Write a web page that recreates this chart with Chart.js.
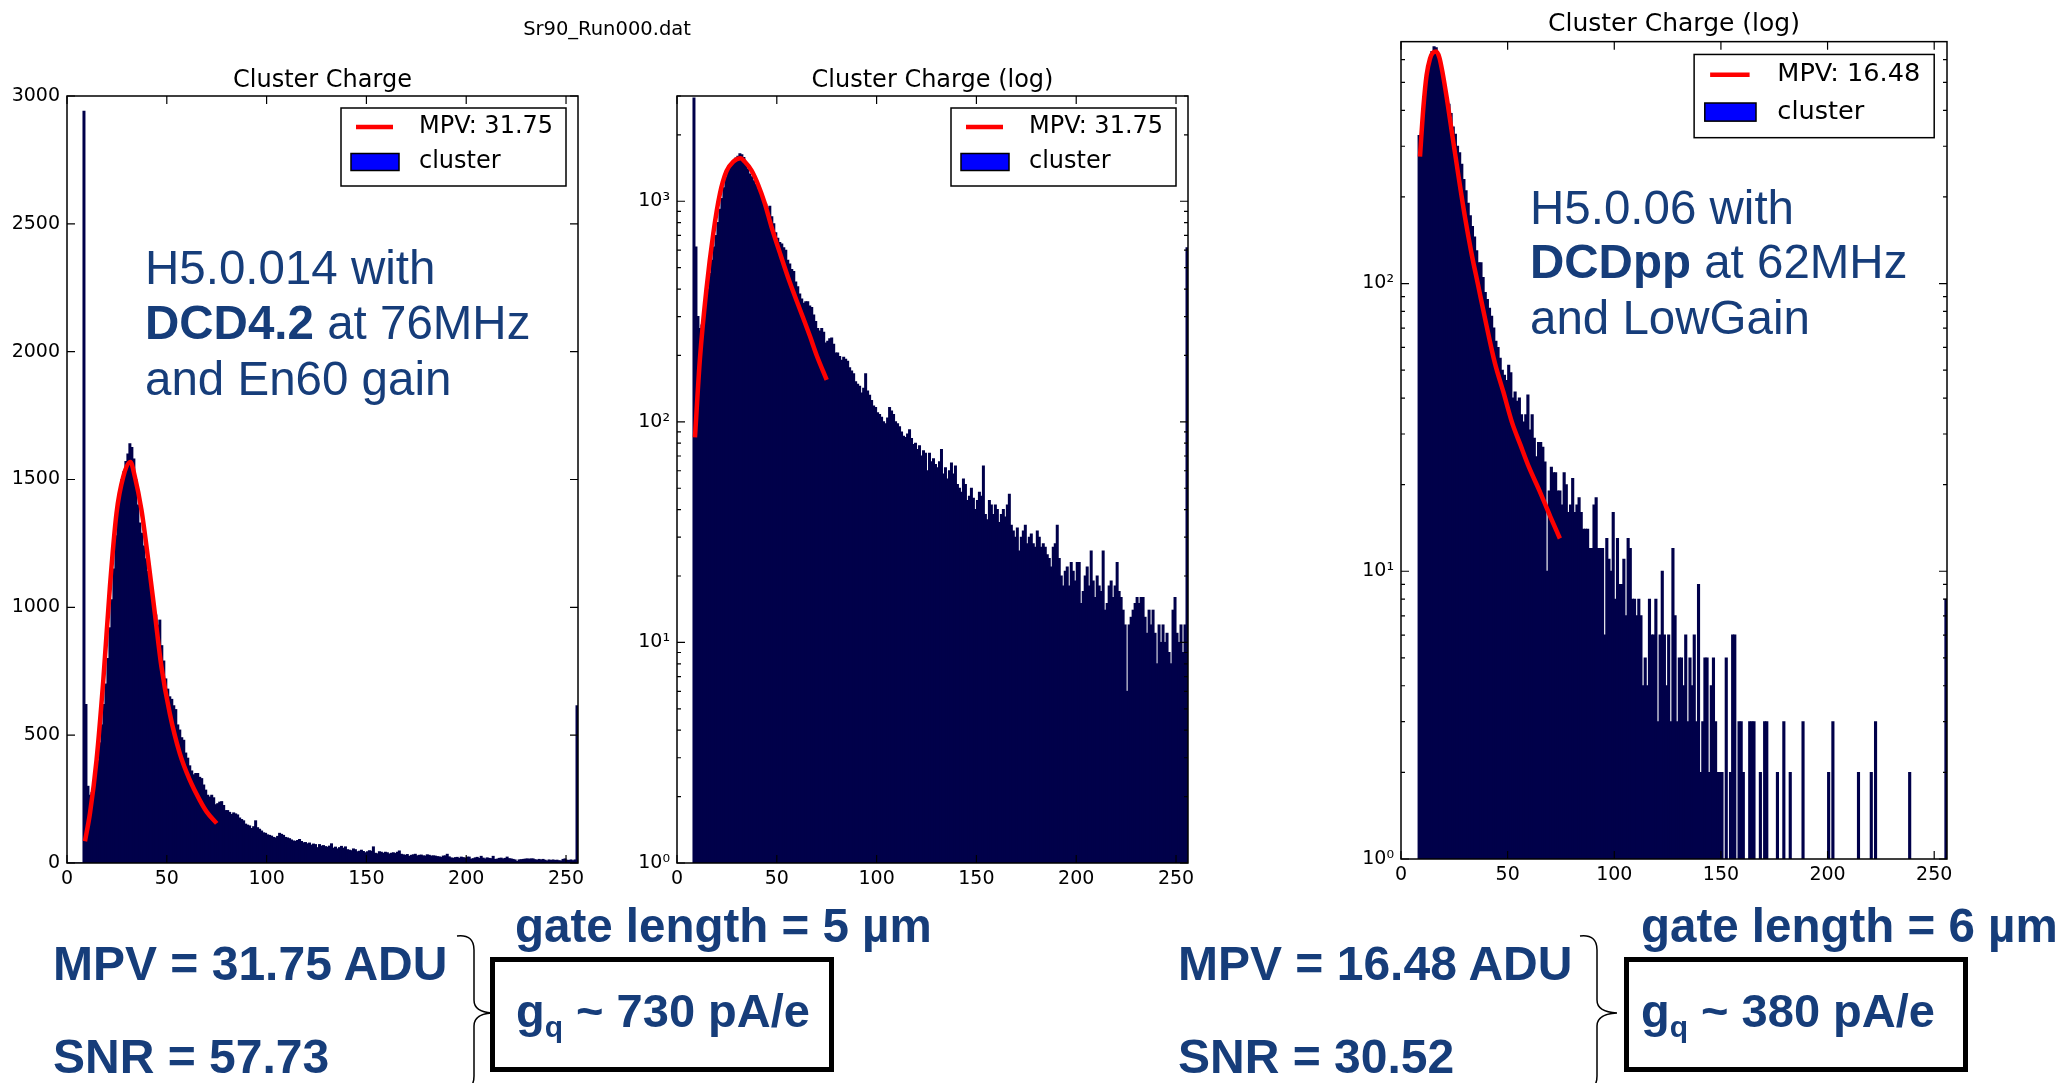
<!DOCTYPE html>
<html>
<head>
<meta charset="utf-8">
<script src="https://cdn.jsdelivr.net/npm/chart.js@4.4.1/dist/chart.umd.min.js"></script>
<style>
  html, body { margin: 0; padding: 0; background: #fff; }
  body { width: 2070px; height: 1083px; position: relative; overflow: hidden; }
  .panel { position: absolute; }
  #notes { position: absolute; left: 0; top: 0; z-index: 2; }
</style>
</head>
<body>
<div class="panel" style="left:0px;top:66px;width:590px;height:837px"><canvas id="chartLin"></canvas></div>
<div class="panel" style="left:600px;top:66px;width:600px;height:837px"><canvas id="chartLog"></canvas></div>
<div class="panel" style="left:1320px;top:9px;width:639px;height:890px"><canvas id="chartLow"></canvas></div>

<svg id="notes" width="2070" height="1083" viewBox="0 0 2070 1083">
  <text x="607" y="35" text-anchor="middle" font-family="DejaVu Sans" font-size="19.5" fill="#000">Sr90_Run000.dat</text>
  <g font-family="Liberation Sans, Arial, sans-serif" font-size="47.5" fill="#163d7a">
    <text x="145" y="284">H5.0.014 with</text>
    <text x="145" y="339"><tspan font-weight="bold">DCD4.2</tspan> at 76MHz</text>
    <text x="145" y="395">and En60 gain</text>
    <text x="1530" y="224">H5.0.06 with</text>
    <text x="1530" y="278"><tspan font-weight="bold">DCDpp</tspan> at 62MHz</text>
    <text x="1530" y="334">and LowGain</text>
  </g>
  <g font-family="Liberation Sans, Arial, sans-serif" font-size="48" font-weight="bold" fill="#163d7a">
    <text x="53" y="980">MPV = 31.75 ADU</text>
    <text x="53" y="1073">SNR = 57.73</text>
    <text x="1178" y="980">MPV = 16.48 ADU</text>
    <text x="1178" y="1073">SNR = 30.52</text>
  </g>
  <g font-family="Liberation Sans, Arial, sans-serif" font-size="47.5" font-weight="bold" fill="#163d7a">
    <text x="515" y="942">gate length = 5 µm</text>
    <text x="1641" y="942">gate length = 6 µm</text>
  </g>
  <g font-family="Liberation Sans, Arial, sans-serif" font-size="47" font-weight="bold" fill="#163d7a">
    <text x="516" y="1027">g<tspan font-size="30" dy="10">q</tspan><tspan dy="-10"> ~ 730 pA/e</tspan></text>
    <text x="1641" y="1027">g<tspan font-size="30" dy="10">q</tspan><tspan dy="-10"> ~ 380 pA/e</tspan></text>
  </g>
  <g fill="none" stroke="#000">
    <rect x="492.5" y="959.5" width="339" height="110" stroke-width="5"/>
    <rect x="1626.5" y="959.5" width="339" height="110" stroke-width="5"/>
    <path d="M457 936 Q474 934 474 950 L474 1000 Q474 1012 492 1013 Q474 1014 474 1026 L474 1076 Q474 1092 457 1090" stroke-width="1.5"/>
    <path d="M1580 936 Q1597 934 1597 950 L1597 1000 Q1597 1012 1617 1013 Q1597 1014 1597 1026 L1597 1076 Q1597 1092 1580 1090" stroke-width="1.5"/>
  </g>
</svg>

<script>
// axis ticks
const xTickValues = [0, 50, 100, 150, 200, 250];
const linTickValues = [0, 500, 1000, 1500, 2000, 2500, 3000];
const logTickLabels = {1: '10\u2070', 10: '10\u00b9', 100: '10\u00b2', 1000: '10\u00b3'};

// Sr90_Run000, H5.0.014 + DCD4.2, counts per ADU bin 0..255
const runACounts = [
  0, 0, 0, 0, 0, 0, 0, 0, 2940, 620, 300, 265, 275, 300, 345, 400,
  470, 540, 620, 700, 800, 920, 1030, 1150, 1280, 1380, 1440, 1500, 1530, 1570, 1600, 1640,
  1625, 1580, 1500, 1400, 1330, 1290, 1240, 1190, 1140, 1090, 1040, 1000, 970, 930, 950, 850,
  790, 720, 680, 650, 640, 615, 600, 540, 520, 490, 480, 430, 410, 380, 360, 345,
  350, 350, 335, 330, 305, 285, 265, 258, 265, 255, 228, 232, 238, 240, 225, 205,
  205, 198, 190, 196, 192, 188, 176, 170, 165, 152, 148, 145, 135, 142, 165, 138,
  132, 125, 118, 116, 110, 108, 105, 100, 98, 104, 116, 112, 108, 100, 98, 95,
  90, 86, 85, 88, 92, 84, 79, 80, 75, 78, 70, 74, 72, 60, 72, 66,
  68, 64, 62, 66, 75, 58, 62, 55, 60, 65, 58, 63, 52, 50, 48, 55,
  52, 44, 46, 50, 45, 40, 44, 48, 46, 63, 38, 36, 44, 42, 38, 42,
  40, 35, 38, 40, 37, 42, 47, 34, 32, 30, 33, 26, 30, 32, 34, 28,
  30, 31, 28, 27, 32, 30, 27, 28, 27, 25, 24, 22, 27, 28, 34, 24,
  20, 18, 21, 22, 18, 23, 21, 19, 23, 23, 15, 17, 20, 22, 18, 26,
  19, 16, 20, 18, 17, 26, 14, 15, 18, 19, 16, 18, 23, 17, 16, 14,
  12, 6, 12, 13, 14, 15, 16, 15, 16, 16, 13, 11, 14, 12, 14, 11,
  8, 12, 10, 12, 10, 11, 9, 8, 14, 16, 11, 10, 12, 9, 12, 615
];

// H5.0.06 + DCDpp, counts per ADU bin 0..255
const runBCounts = [
  0, 0, 0, 0, 0, 0, 0, 0, 327, 278, 400, 480, 545, 600, 640, 665,
  660, 610, 570, 520, 470, 440, 420, 390, 350, 330, 300, 285, 260, 230, 210, 190,
  172, 158, 145, 130, 118, 118, 105, 93, 88, 82, 77, 70, 63, 60, 55, 50,
  48, 46, 52, 49, 40, 42, 39, 40, 35, 33, 35, 41, 31, 35, 29, 25,
  28, 28, 27, 24, 10, 19, 23, 22, 22, 19, 19, 17, 22, 20, 16, 17,
  21, 16, 17, 18, 16, 14, 14, 14, 12, 12, 17, 18, 12, 12, 12, 6,
  13, 11, 10, 16, 8, 13, 9, 9, 11, 7, 13, 12, 8, 8, 7, 8,
  7, 4, 5, 4, 8, 6, 6, 8, 3, 6, 10, 6, 4, 6, 3, 12,
  7, 3, 5, 5, 4, 6, 3, 5, 4, 6, 3, 9, 2, 3, 5, 5,
  2, 4, 5, 3, 2, 2, 2, 0, 5, 0, 2, 6, 6, 0, 3, 3,
  2, 0, 0, 3, 3, 3, 0, 0, 2, 0, 3, 3, 0, 0, 0, 0,
  2, 0, 0, 3, 0, 0, 2, 0, 0, 0, 0, 0, 3, 0, 0, 0,
  0, 0, 0, 0, 0, 0, 0, 0, 2, 0, 3, 0, 0, 0, 0, 0,
  0, 0, 0, 0, 0, 0, 2, 0, 0, 0, 0, 0, 2, 0, 3, 0,
  0, 0, 0, 0, 0, 0, 0, 0, 0, 0, 0, 0, 0, 0, 2, 0,
  0, 0, 0, 0, 0, 0, 0, 0, 0, 0, 0, 0, 0, 0, 0, 8
];

// fitted curves
const fitAX = [9, 11.5, 14.8, 18.2, 21.5, 24.8, 28.2, 31.75, 34, 37.3, 40.7, 44, 47.3, 51.5, 56.5, 61.5, 66.5, 70, 75];
const fitAY = [85, 194, 403, 716, 1081, 1368, 1511, 1568, 1511, 1381, 1185, 977, 768, 585, 429, 325, 246, 200, 155];
const fitBX = [8.9, 10.5, 12, 13.6, 15, 16.5, 18, 19.5, 21.5, 24, 27, 30, 33, 36, 40, 44, 48, 52, 56, 60, 65, 70, 74.5];
const fitBY = [276, 410, 530, 605, 635, 640, 610, 540, 440, 330, 235, 170, 128, 100, 72, 53, 42, 33, 27.5, 23, 19, 15.5, 13];

const barLabel = 'cluster';
const tickFont = {family: 'DejaVu Sans', size: 19};

// frame + inward ticks on all four sides, matplotlib style
const frameTicks = {
  id: 'frameTicks',
  afterDatasetsDraw(chart) {
    const {ctx, chartArea: a} = chart;
    const x = chart.scales.x, y = chart.scales.y;
    ctx.save();
    ctx.strokeStyle = '#000';
    ctx.lineWidth = 1.2;
    ctx.beginPath();
    x.ticks.forEach(t => {
      const px = x.getPixelForValue(t.value);
      ctx.moveTo(px, a.bottom); ctx.lineTo(px, a.bottom - 8);
      ctx.moveTo(px, a.top); ctx.lineTo(px, a.top + 8);
    });
    y.ticks.forEach(t => {
      let len = 8;
      if (y.type === 'logarithmic') {
        const e = Math.floor(Math.log10(t.value) + 1e-9);
        const m = t.value / Math.pow(10, e);
        if (Math.abs(m - Math.round(m)) > 1e-6) return;
        if (Math.round(m) !== 1) len = 4;
      }
      const py = y.getPixelForValue(t.value);
      ctx.moveTo(a.left, py); ctx.lineTo(a.left + len, py);
      ctx.moveTo(a.right, py); ctx.lineTo(a.right - len, py);
    });
    ctx.stroke();
    ctx.lineWidth = 1.5;
    ctx.strokeRect(a.left, a.top, a.right - a.left, a.bottom - a.top);
    ctx.restore();
  }
};

// boxed legend in the upper right of the plot
const boxLegend = {
  id: 'boxLegend',
  afterDatasetsDraw(chart, args, opts) {
    const s = opts.scale || 1;
    const a = chart.chartArea, ctx = chart.ctx;
    const w = 225 * s, h = 78 * s;
    const bx = a.right - 12 * s - w, by = a.top + 12 * s;
    ctx.save();
    ctx.fillStyle = '#fff';
    ctx.fillRect(bx, by, w, h);
    ctx.strokeStyle = '#000';
    ctx.lineWidth = 1.5;
    ctx.strokeRect(bx, by, w, h);
    const items = chart.data.datasets.slice().sort((p, q) => p.order - q.order);
    items.forEach((ds, i) => {
      const cy = by + (19 + 35 * i) * s;
      if (ds.type === 'line') {
        ctx.strokeStyle = ds.borderColor;
        ctx.lineWidth = 4.5;
        ctx.beginPath();
        ctx.moveTo(bx + 15 * s, cy);
        ctx.lineTo(bx + 52 * s, cy);
        ctx.stroke();
      } else {
        ctx.fillStyle = ds.legendFill || ds.backgroundColor;
        ctx.fillRect(bx + 10 * s, cy - 8.5 * s, 48 * s, 17 * s);
        ctx.strokeStyle = '#000';
        ctx.lineWidth = 1.5;
        ctx.strokeRect(bx + 10 * s, cy - 8.5 * s, 48 * s, 17 * s);
      }
      ctx.fillStyle = '#000';
      ctx.font = (24 * s) + 'px "DejaVu Sans"';
      ctx.textBaseline = 'middle';
      ctx.textAlign = 'left';
      ctx.fillText(ds.label, bx + 78 * s, cy);
    });
    ctx.restore();
  }
};

function bars(counts, log) {
  return counts.map((c, i) => ({x: i + 0.5, y: log && c <= 0 ? null : c}));
}

function curve(xs, ys) {
  return xs.map((v, i) => ({x: v, y: ys[i]}));
}

function makeChart(id, cfg) {
  const yScale = cfg.log ? {
    type: 'logarithmic', min: 1, max: cfg.yMax,
    ticks: {
      font: tickFont, color: '#000', padding: 7, autoSkip: false,
      callback: v => {
        const k = Math.round(Math.log10(v));
        return Math.abs(Math.log10(v) - k) < 1e-9 && logTickLabels[Math.pow(10, k)] ? logTickLabels[Math.pow(10, k)] : '';
      }
    }
  } : {
    type: 'linear', min: 0, max: cfg.yMax,
    afterBuildTicks: s => { s.ticks = linTickValues.map(v => ({value: v})); },
    ticks: {font: tickFont, color: '#000', padding: 7, autoSkip: false, callback: v => String(v)}
  };
  yScale.grid = {display: false, drawTicks: false};
  yScale.border = {display: false};
  yScale.afterFit = s => { s.width = cfg.axisWidth; };

  return new Chart(document.getElementById(id), {
    type: 'bar',
    data: {
      datasets: [
        {
          type: 'line', label: cfg.fitLabel, data: curve(cfg.fitX, cfg.fitY),
          borderColor: 'red', borderWidth: 4.5, pointRadius: 0,
          cubicInterpolationMode: 'monotone', order: 0
        },
        {
          type: 'bar', label: barLabel, data: bars(cfg.counts, cfg.log),
          backgroundColor: '#00004a', legendFill: 'blue', borderWidth: 0,
          inflateAmount: 0.5,
          barPercentage: 1, categoryPercentage: 1, order: 1
        }
      ]
    },
    options: {
      responsive: true,
      maintainAspectRatio: false,
      animation: false,
      events: [],
      layout: {padding: {left: 0, right: 12, top: 0, bottom: 0}},
      plugins: {
        legend: {display: false},
        tooltip: {enabled: false},
        title: {
          display: true, text: cfg.title, color: '#000', fullSize: false,
          font: {family: 'DejaVu Sans', size: cfg.titleSize, weight: 'normal', lineHeight: 1.25},
          padding: {top: 0, bottom: cfg.titleGap}
        },
        boxLegend: {scale: cfg.legendScale}
      },
      scales: {
        x: {
          type: 'linear', min: 0, max: 256, offset: false,
          grid: {display: false, drawTicks: false, offset: false},
          border: {display: false},
          afterBuildTicks: s => { s.ticks = xTickValues.map(v => ({value: v})); },
          ticks: {font: tickFont, color: '#000', padding: 5, maxRotation: 0, autoSkip: false},
          afterFit: s => { s.height = 40; }
        },
        y: yScale
      }
    },
    plugins: [frameTicks, boxLegend]
  });
}

makeChart('chartLin', {
  title: 'Cluster Charge', titleSize: 24, titleGap: 0, log: false, yMax: 3000,
  counts: runACounts, fitX: fitAX, fitY: fitAY, fitLabel: 'MPV: 31.75',
  axisWidth: 67, legendScale: 1
});
makeChart('chartLog', {
  title: 'Cluster Charge (log)', titleSize: 24, titleGap: 0, log: true, yMax: 3000,
  counts: runACounts, fitX: fitAX, fitY: fitAY, fitLabel: 'MPV: 31.75',
  axisWidth: 77, legendScale: 1
});
makeChart('chartLow', {
  title: 'Cluster Charge (log)', titleSize: 25, titleGap: 1.4, log: true, yMax: 693,
  counts: runBCounts, fitX: fitBX, fitY: fitBY, fitLabel: 'MPV: 16.48',
  axisWidth: 81, legendScale: 1.067
});
</script>
</body>
</html>
